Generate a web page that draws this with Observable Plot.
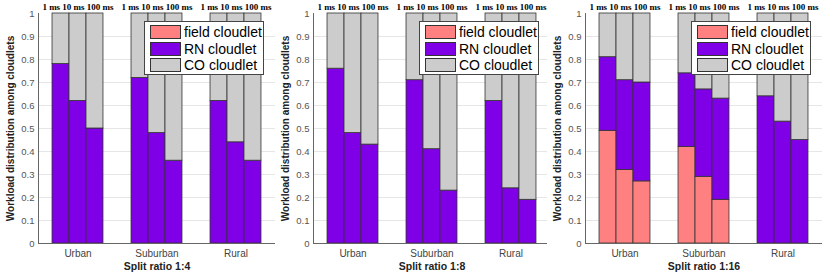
<!DOCTYPE html>
<html><head><meta charset="utf-8">
<script src="https://cdn.jsdelivr.net/npm/d3@7"></script>
<script src="https://cdn.jsdelivr.net/npm/@observablehq/plot@0.6"></script>
<style>
body{margin:0;background:#fff;}
#wrap{position:relative;width:831px;height:273px;overflow:hidden;}
.panel{position:absolute;top:0;}
.legend{position:absolute;left:144px;top:21px;width:118px;height:52px;border:1px solid #444;background:#fff;font-family:"Liberation Sans",Arial,sans-serif;font-size:14px;color:#000;}
.row{position:absolute;left:5px;height:14px;display:flex;align-items:center;white-space:nowrap;}
.sw{width:29px;height:12px;border:1px solid #333;margin-right:3px;}
</style></head><body><div id="wrap"></div>
<script>
const regions = ["Urban", "Suburban", "Rural"];
const latencies = ["1 ms", "10 ms", "100 ms"];
const series = ["field cloudlet", "RN cloudlet", "CO cloudlet"];
const colors = ["#ff8080", "#7f00e6", "#cccccc"];
const yTicks = [0, 0.1, 0.2, 0.3, 0.4, 0.5, 0.6, 0.7, 0.8, 0.9, 1];
const yLabel = "Workload distribution among cloudlets";
const ratios = ["Split ratio 1:4", "Split ratio 1:8", "Split ratio 1:16"];

// values per bar, ordered Urban(1,10,100 ms), Suburban(...), Rural(...)
const field14 = [0, 0, 0, 0, 0, 0, 0, 0, 0];
const rn14 = [0.78, 0.62, 0.50, 0.72, 0.48, 0.36, 0.62, 0.44, 0.36];
const co14 = [0.22, 0.38, 0.50, 0.28, 0.52, 0.64, 0.38, 0.56, 0.64];

const field18 = [0, 0, 0, 0, 0, 0, 0, 0, 0];
const rn18 = [0.76, 0.48, 0.43, 0.71, 0.41, 0.23, 0.62, 0.24, 0.19];
const co18 = [0.24, 0.52, 0.57, 0.29, 0.59, 0.77, 0.38, 0.76, 0.81];

const field116 = [0.49, 0.32, 0.27, 0.42, 0.29, 0.19, 0, 0, 0];
const rn116 = [0.32, 0.39, 0.43, 0.32, 0.38, 0.44, 0.64, 0.53, 0.45];
const co116 = [0.19, 0.29, 0.30, 0.26, 0.33, 0.37, 0.36, 0.47, 0.55];

const panels = [
  {ratio: ratios[0], field: field14, rn: rn14, co: co14, left: 0},
  {ratio: ratios[1], field: field18, rn: rn18, co: co18, left: 275},
  {ratio: ratios[2], field: field116, rn: rn116, co: co116, left: 547}
];

const barW = 0.215;
const wrap = document.getElementById("wrap");

for (const p of panels) {
  const rows = [];
  regions.forEach((r, gi) => {
    latencies.forEach((l, li) => {
      const idx = gi * 3 + li;
      const vals = [p.field[idx], p.rn[idx], p.co[idx]];
      let acc = 0;
      vals.forEach((v, si) => {
        if (v > 0) {
          const xc = gi + 1 + (li - 1) * barW;
          rows.push({series: series[si], x1: xc - barW / 2, x2: xc + barW / 2, y1: acc, y2: acc + v});
        }
        acc += v;
      });
    });
  });

  const chart = Plot.plot({
    width: 277, height: 273,
    marginLeft: 38, marginRight: 2, marginTop: 13, marginBottom: 30,
    x: {domain: [0.5, 3.5]},
    y: {domain: [0, 1]},
    color: {domain: series, range: colors},
    style: {fontFamily: "Liberation Sans, Arial, sans-serif", background: "white", overflow: "visible"},
    marks: [
      Plot.gridY(yTicks.slice(1, -1), {stroke: "#e6e6e6", strokeOpacity: 1}),
      Plot.rectY(rows, {x1: "x1", x2: "x2", y1: "y1", y2: "y2", fill: "series", stroke: "#333", strokeWidth: 0.8}),
      Plot.ruleX([0.5], {stroke: "#666"}),
      Plot.ruleY([0], {stroke: "#666"}),
      Plot.axisY(yTicks, {tickSize: 0, tickPadding: 4, tickFormat: d => String(d), fontSize: 9.5, fill: "#555", label: null}),
      Plot.axisX([1, 2, 3], {tickSize: 0, tickPadding: 6, tickFormat: d => regions[d - 1], fontSize: 10, fill: "#444", label: null}),
      Plot.text(regions, {x: (d, i) => i + 1, frameAnchor: "top", dy: -6, lineAnchor: "middle", text: () => latencies.join(" "), fontFamily: "Liberation Serif, Times New Roman, serif", fontWeight: "bold", fontSize: 9, fill: "#000"}),
      Plot.text([p.ratio], {frameAnchor: "bottom", dy: 23, lineAnchor: "middle", fontWeight: "bold", fontSize: 10.5, fill: "#222"}),
      Plot.text([yLabel], {frameAnchor: "left", dx: -28, rotate: -90, textAnchor: "middle", lineAnchor: "middle", fontWeight: "bold", fontSize: 10, fill: "#222"})
    ]
  });

  const div = document.createElement("div");
  div.className = "panel";
  div.style.left = p.left + "px";
  div.appendChild(chart);

  const lg = document.createElement("div");
  lg.className = "legend";
  series.forEach((s, i) => {
    const row = document.createElement("div");
    row.className = "row";
    row.style.top = (3 + i * 16.5) + "px";
    const sw = document.createElement("div");
    sw.className = "sw";
    sw.style.background = colors[i];
    const t = document.createElement("span");
    t.textContent = s;
    row.appendChild(sw);
    row.appendChild(t);
    lg.appendChild(row);
  });
  div.appendChild(lg);
  wrap.appendChild(div);
}
</script>
</body></html>
